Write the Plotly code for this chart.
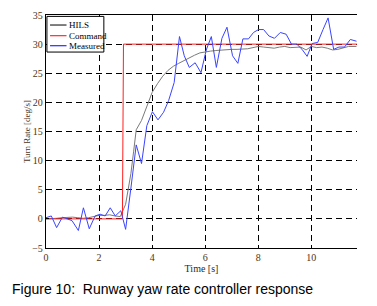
import plotly.graph_objects as go

# ---- data ----
hils_t = [0, 0.2, 0.4, 0.6, 0.8, 1.0, 1.2, 1.4, 1.6, 1.8, 2.0, 2.2, 2.4, 2.6, 2.8, 3.0, 3.1, 3.2, 3.3, 3.4,
          3.6, 3.8, 4.0, 4.2, 4.4, 4.6, 4.8, 5.0, 5.2, 5.4, 5.6, 5.8, 6.0, 6.2, 6.4, 6.6, 6.8, 7.0, 7.2, 7.4,
          7.6, 7.8, 8.0, 8.2, 8.4, 8.6, 8.8, 9.0, 9.2, 9.4, 9.6, 9.8, 10.0, 10.2, 10.4, 10.6, 10.8, 11.0,
          11.2, 11.4, 11.7]
hils_v = [0, 0, 0.1, 0.2, 0.3, 0.3, 0.2, 0.1, 0.2, 0.4, 0.6, 0.6, 0.7, 0.5, 0.4, 2.5, 5, 7.8, 11.5, 15.3,
          16.9, 19.2, 21.7, 23.2, 24.5, 25.5, 26.2, 26.7, 27.2, 27.6, 28.1, 28.5, 28.7, 28.8, 28.9, 29, 29,
          29.1, 29.1, 29.1, 29.2, 29.4, 29.6, 29.5, 29.4, 29.3, 29.5, 29.6, 29.4, 29.5, 29.5, 29.0, 29.6,
          29.4, 29.5, 29.3, 29.0, 29.1, 29.4, 29.6, 29.6]

cmd_t = [0, 2.88, 2.92, 11.72]
cmd_v = [0, 0, 30, 30]

meas_t = [0, 0.2, 0.4, 0.62, 0.8, 0.98, 1.22, 1.41, 1.63, 1.85, 2.04, 2.23, 2.42, 2.61, 2.82, 3.0, 3.2,
          3.4, 3.6, 3.8, 4.01, 4.22, 4.43, 4.62, 4.83, 5.03, 5.21, 5.4, 5.62, 5.84, 6.04, 6.23, 6.42, 6.63,
          6.82, 7.03, 7.23, 7.42, 7.63, 7.82, 8.01, 8.2, 8.4, 8.61, 8.83, 9.05, 9.25, 9.45, 9.65, 9.84,
          10.03, 10.24, 10.44, 10.63, 10.84, 11.04, 11.25, 11.47, 11.7]
meas_v = [0.2, 0.5, -1.5, 0.3, 0.0, -0.3, -2, 1.9, -1.7, 0.5, 0.8, 0.5, 1.9, 0.5, 1.4, -1.8, 5.3, 12.7,
          9.5, 16, 18.4, 17, 18.3, 20.3, 23.4, 31.3, 28, 26, 26.8, 25.1, 29, 31.3, 26, 31, 32.9, 28, 26.7,
          30.9, 30.9, 32, 32.5, 32.5, 31.4, 31, 32, 31.7, 30, 30, 29.1, 27.9, 30.1, 30.3, 32.5, 34.5, 29.1,
          29.5, 29.5, 30.8, 30.5]

x_ticks = [0, 2, 4, 6, 8, 10]
y_ticks = [-5, 0, 5, 10, 15, 20, 25, 30, 35]

series_names = ["HILS", "Command", "Measured"]
series_colors = ["#7a7a7a", "#ff2020", "#3a44ff"]

LBL = "#4d3319"
SERIF = "Liberation Serif, Times New Roman, serif"

fig = go.Figure()
for name, color, xs, ys in zip(series_names, series_colors,
                               [hils_t, cmd_t, meas_t], [hils_v, cmd_v, meas_v]):
    fig.add_trace(go.Scatter(x=xs, y=ys, mode="lines", name=name, showlegend=False,
                             line=dict(color=color, width=1)))

# compact legend box (MATLAB style)
shapes = [dict(type="rect", xref="paper", yref="paper", x0=0.003, x1=0.186, y0=0.841, y1=0.994,
               fillcolor="white", line=dict(color="black", width=1), layer="above")]
annotations = []
row_y = [0.957, 0.911, 0.868]
legend_line_colors = ["black", "#ff0000", "#0000ff"]
for name, color, yy in zip(series_names, legend_line_colors, row_y):
    shapes.append(dict(type="line", xref="paper", yref="paper", x0=0.013, x1=0.066, y0=yy, y1=yy,
                       line=dict(color=color, width=1), layer="above"))
    annotations.append(dict(text=name, xref="paper", yref="paper", x=0.066, y=yy,
                            xanchor="left", yanchor="middle", showarrow=False,
                            font=dict(family=SERIF, size=9, color="black")))

annotations.append(dict(text="Figure 10:  Runway yaw rate controller response", xref="paper", yref="paper",
                        x=-0.115, y=-0.178, xanchor="left", yanchor="middle", showarrow=False,
                        font=dict(family="Liberation Sans, Arial, sans-serif", size=14, color="black")))

fig.update_layout(
    width=377, height=306,
    margin=dict(l=46, r=20, t=15, b=58),
    paper_bgcolor="white", plot_bgcolor="white",
    font=dict(family=SERIF, size=10, color=LBL),
    showlegend=False,
    xaxis=dict(range=[0, 11.72], tickvals=x_ticks, showline=True, linecolor="black", linewidth=1.3,
               mirror=True, ticks="inside", ticklen=3, tickcolor="black", automargin=False,
               showgrid=True, gridcolor="black", gridwidth=1.2, griddash="6px,4px", zeroline=False,
               title=dict(text="Time [s]", font=dict(size=10, color="#2a2a2a"), standoff=0),
               tickfont=dict(size=10, color=LBL)),
    yaxis=dict(range=[-5, 35], tickvals=y_ticks, showline=True, linecolor="black", linewidth=1.3,
               ticks="inside", ticklen=3, tickcolor="black", automargin=False,
               showgrid=True, gridcolor="black", gridwidth=1.2, griddash="6px,4px", zeroline=False,
               title=dict(text="Turn Rate [deg/s]", font=dict(size=9, color=LBL), standoff=0),
               tickfont=dict(size=10, color=LBL)),
    shapes=shapes,
    annotations=annotations,
)

fig.write_html("out.html", config={"displayModeBar": False},
               post_script="document.body.style.margin='0';")
